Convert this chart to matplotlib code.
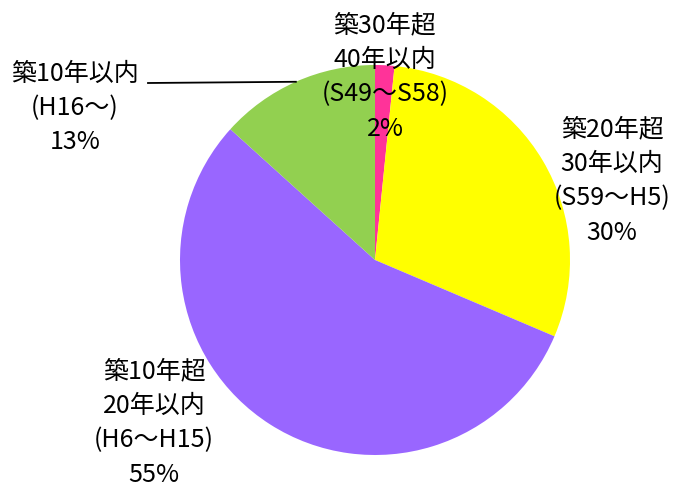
import numpy as np
import matplotlib
matplotlib.use("Agg")
import matplotlib.pyplot as plt

plt.rcParams['font.family'] = ['Noto Sans CJK JP', 'DejaVu Sans']

# data
labels = ['築30年超\n40年以内\n(S49～S58)', '築20年超\n30年以内\n(S59～H5)',
          '築10年超\n20年以内\n(H6～H15)', '築10年以内\n(H16～)']
shares = [1.6, 29.8, 55.3, 13.3]
colors = ['#FF3399', '#FFFF00', '#9966FF', '#92D050']

W, H = 674, 488
fig = plt.figure(figsize=(W / 100, H / 100), dpi=100)
ax = fig.add_axes([0, 0, 1, 1])

cx, cy, r = 375, H - 260, 195
wedges, _ = ax.pie(shares, colors=colors, startangle=90, counterclock=False,
                   center=(cx, cy), radius=r)
ax.set_xlim(0, W)
ax.set_ylim(0, H)
ax.axis('off')

# label placement (pixel coords from top)
label_pos = [(385, 77), (612, 181), (154, 423), (75, 108)]
for lab, val, (px, py) in zip(labels, shares, label_pos):
    ax.text(px, H - py, f'{lab}\n{val:.0f}%', ha='center', va='center',
            fontsize=18, linespacing=1.42, color='black')

# leader line for the green slice
g = wedges[3]
mid = np.deg2rad((g.theta1 + g.theta2) / 2)
ex, ey = cx + r * np.cos(mid), cy + r * np.sin(mid)
ax.plot([148, ex], [H - 83, ey], color='black', lw=1.3)

fig.savefig('out.png', dpi=100)
